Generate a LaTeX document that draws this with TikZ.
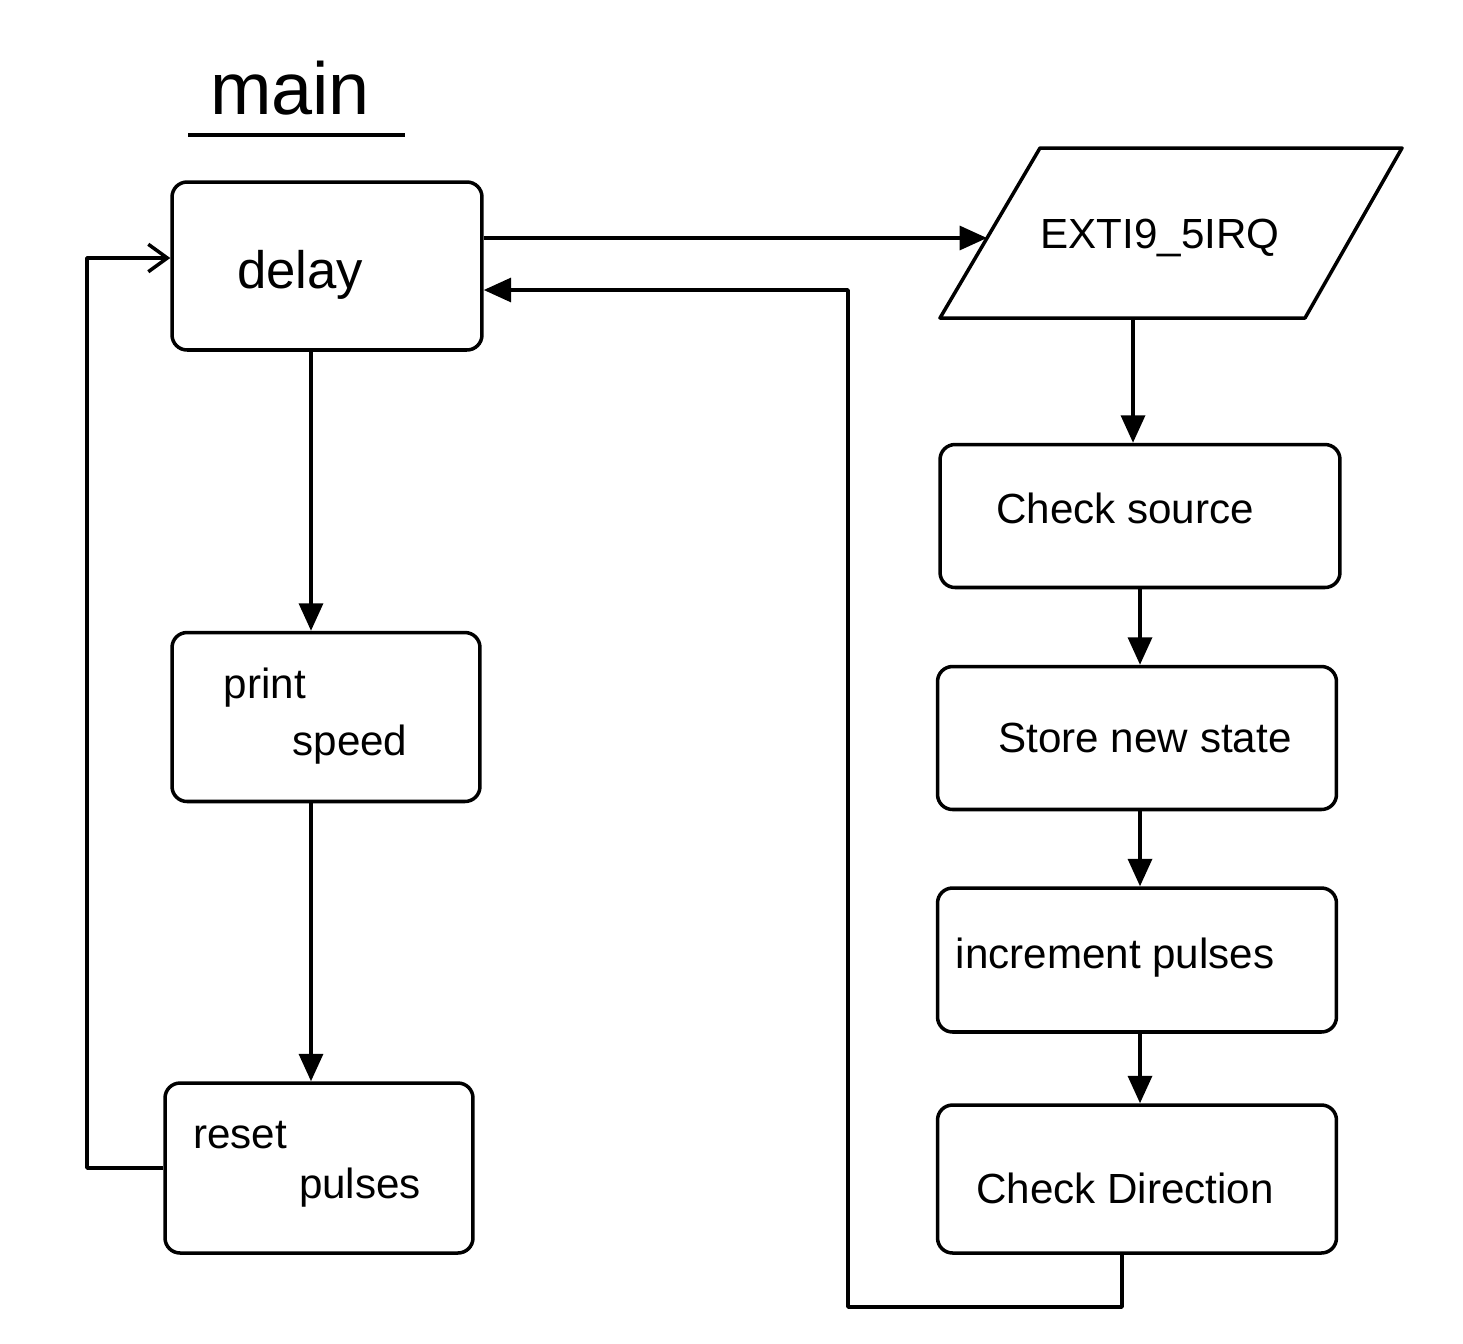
\documentclass[tikz,border=0pt]{standalone}
\usepackage{fontspec}
\setmainfont{Liberation Sans}
\usetikzlibrary{arrows.meta}
\begin{document}
\begin{tikzpicture}[x=0.02cm,y=-0.02cm,
  stroke/.style={line width=2pt, line join=round},
  box/.style={stroke, draw, rounded corners=0.3cm, inner sep=0pt},
  lbl/.style={font=\fontsize{24}{28}\selectfont, inner sep=0pt},
  arr/.style={stroke, -{Triangle[length=0.55cm,width=0.48cm]}},
  openarr/.style={stroke, -{Straight Barb[length=0.38cm,width=0.55cm,line width=2pt]}}]
\useasboundingbox (0,0) rectangle (1463,1343);
% title
\node[font=\fontsize{42}{48}\selectfont, inner sep=0pt] (title) at (290,88) {main};
\coordinate (ul1) at (188,135);
\coordinate (ul2) at (405,135);
\draw[stroke] (ul1) -- (ul2);
% left column
\node[box, minimum width=6.2cm, minimum height=3.36cm] (delay) at (327,266) {};
\node[lbl, font=\fontsize{30}{34}\selectfont] (tdelay) at (300,275) {delay};
\node[box, minimum width=6.16cm, minimum height=3.38cm] (print) at (326,717) {};
\node[lbl] (tprint) at (265,688) {print};
\node[lbl] (tspeed) at (350,745) {speed};
\node[box, minimum width=6.16cm, minimum height=3.4cm] (reset) at (319,1168) {};
\node[lbl] (treset) at (240,1135) {reset};
\node[lbl] (tpulses) at (360,1188) {pulses};
% right column: input/output parallelogram
\coordinate (p1) at (940,318);
\coordinate (p2) at (1040,148);
\coordinate (p3) at (1402,148);
\coordinate (p4) at (1305,318);
\draw[stroke] (p1) -- (p2) -- (p3) -- (p4) -- cycle;
\node[lbl] (exti) at (1160,238) {EXTI9\_5IRQ};
\coordinate (ein) at (987,238);
\coordinate (eout) at (1133,318);
\node[box, minimum width=8cm, minimum height=2.86cm] (src) at (1140,516) {};
\node[lbl] (tsrc) at (1125,508) {Check source};
\node[box, minimum width=7.98cm, minimum height=2.86cm] (store) at (1137,738) {};
\node[lbl] (tstore) at (1145,738) {Store new state};
\node[box, minimum width=7.98cm, minimum height=2.88cm] (incr) at (1137,960) {};
\node[lbl] (tincr) at (1115,958) {increment pulses};
\node[box, minimum width=7.98cm, minimum height=2.96cm] (dir) at (1137,1179) {};
\node[lbl] (tdir) at (1125,1188) {Check Direction};
% connectors
\draw[arr] (delay.south -| 311,0) -- (print.north -| 311,0);
\draw[arr] (print.south -| 311,0) -- (reset.north -| 311,0);
\coordinate (l1) at (87,1168);
\draw[openarr] (reset.west) -- (l1) |- ([yshift=0.16cm]delay.west);
\draw[arr] (delay.east |- ein) -- (ein);
\draw[arr] (eout) -- (src.north -| eout);
\draw[arr] (src.south -| 1140,0) -- (store.north -| 1140,0);
\draw[arr] (store.south -| 1140,0) -- (incr.north -| 1140,0);
\draw[arr] (incr.south -| 1140,0) -- (dir.north -| 1140,0);
\coordinate (r1) at (848,1307);
\draw[arr] (dir.south -| 1122,0) |- (r1) |- ([yshift=-0.48cm]delay.east);
\end{tikzpicture}
\end{document}
